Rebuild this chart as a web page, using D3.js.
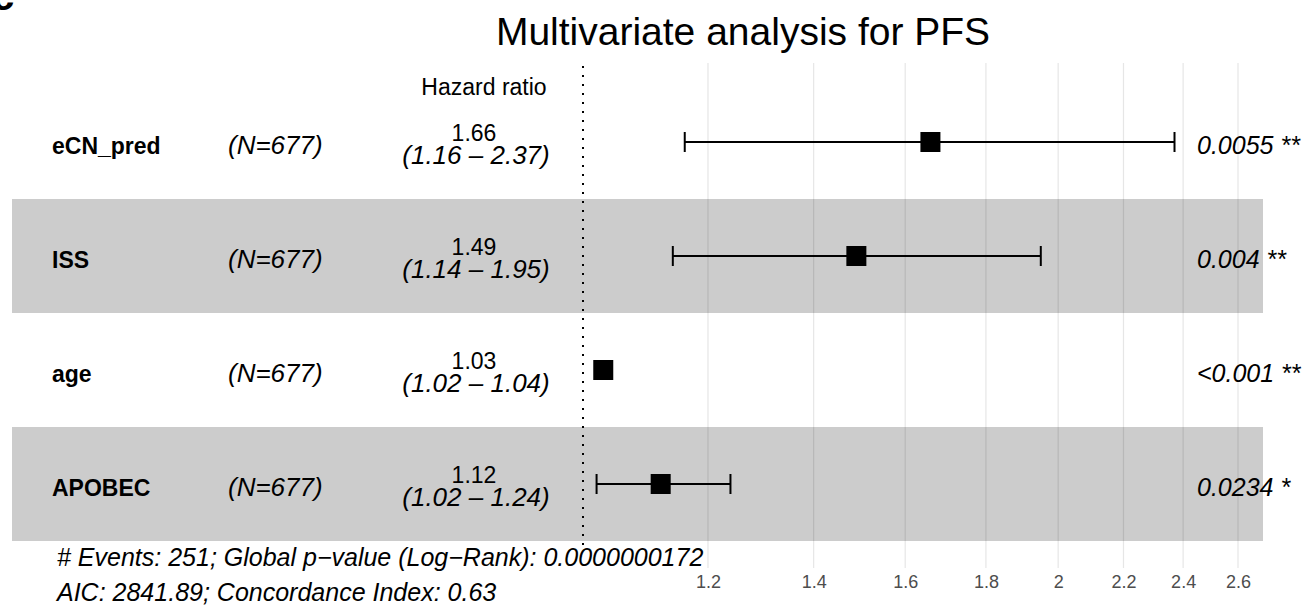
<!DOCTYPE html>
<html>
<head>
<meta charset="utf-8">
<script src="https://cdn.jsdelivr.net/npm/d3@7"></script>
<style>
  body { margin: 0; background: #fff; }
  svg { font-family: "Liberation Sans", Arial, sans-serif; }
</style>
</head>
<body>
<div id="chart"></div>
<script>
// forest plot, multivariate Cox model for PFS

var variables = ["eCN_pred", "ISS", "age", "APOBEC"];
var nLabels = ["(N=677)", "(N=677)", "(N=677)", "(N=677)"];
var hazard = [1.66, 1.49, 1.03, 1.12];
var lower = [1.16, 1.14, 1.02, 1.02];
var upper = [2.37, 1.95, 1.04, 1.24];
var pvals = ["0.0055", "0.004", "<0.001", "0.0234"];
var stars = ["**", "**", "**", "*"];
var tickValues = [1.2, 1.4, 1.6, 1.8, 2, 2.2, 2.4, 2.6];
var footer = [
  "# Events: 251; Global p\u2212value (Log\u2212Rank): 0.0000000172",
  "AIC: 2841.89; Concordance Index: 0.63"
];

var width = 1310, height = 612;

var svg = d3.select("#chart").append("svg")
  .attr("width", width)
  .attr("height", height);

var rows = variables.map(function(v, i) {
  return { name: v, n: nLabels[i], hr: hazard[i], lo: lower[i], hi: upper[i], p: pvals[i], s: stars[i], i: i };
});

var x = d3.scaleLog().domain([1, 2.6]).range([583, 1238]);
var y = d3.scaleBand().domain(variables).range([85, 541]);

// gridlines
svg.append("g").selectAll("line")
  .data(tickValues)
  .enter().append("line")
    .attr("x1", function(d) { return x(d); })
    .attr("x2", function(d) { return x(d); })
    .attr("y1", 63)
    .attr("y2", 568)
    .attr("stroke", "#e6e6e6")
    .attr("stroke-width", 1.2);

// alternating bands
svg.append("g").selectAll("rect")
  .data(rows.filter(function(d) { return d.i % 2 == 1; }))
  .enter().append("rect")
    .attr("x", 12)
    .attr("width", 1263 - 12)
    .attr("y", function(d) { return y(d.name); })
    .attr("height", y.bandwidth())
    .attr("fill", "#000")
    .attr("fill-opacity", 0.2);

// reference line at 1
svg.append("line")
  .attr("x1", x(1)).attr("x2", x(1))
  .attr("y1", 66).attr("y2", 548)
  .attr("stroke", "#000")
  .attr("stroke-width", 2)
  .attr("stroke-dasharray", "2,7");

// axis labels
var axis = d3.axisBottom(x)
  .tickValues(tickValues)
  .tickFormat(d3.format("~g"))
  .tickSize(0)
  .tickPadding(0);

var ax = svg.append("g")
  .attr("transform", "translate(0,575)")
  .call(axis);
ax.select(".domain").remove();
ax.selectAll("text")
  .attr("fill", "#4d4d4d")
  .attr("font-size", 18)
  .attr("dy", "0.71em")
  .attr("y", 0)
  .style("font-family", "Liberation Sans, Arial, sans-serif");

var rowG = svg.append("g").selectAll("g")
  .data(rows)
  .enter().append("g")
    .attr("transform", function(d) { return "translate(0," + (y(d.name) + y.bandwidth() / 2) + ")"; });

rowG.append("text")
  .attr("x", 52).attr("y", 12)
  .attr("font-size", 23)
  .attr("font-weight", "bold")
  .text(function(d) { return d.name; });

rowG.append("text")
  .attr("x", 228).attr("y", 12)
  .attr("font-size", 26)
  .attr("font-style", "italic")
  .text(function(d) { return d.n; });

rowG.append("text")
  .attr("x", 474).attr("y", -1)
  .attr("text-anchor", "middle")
  .attr("font-size", 23)
  .text(function(d) { return d3.format(".2f")(d.hr); });

rowG.append("text")
  .attr("x", 476).attr("y", 22)
  .attr("text-anchor", "middle")
  .attr("font-size", 26)
  .attr("font-style", "italic")
  .text(function(d) { return "(" + d3.format(".2f")(d.lo) + " \u2013 " + d3.format(".2f")(d.hi) + ")"; });

// confidence intervals
rowG.append("line")
  .attr("x1", function(d) { return x(d.lo); })
  .attr("x2", function(d) { return x(d.hi); })
  .attr("stroke", "#000").attr("stroke-width", 2);
rowG.selectAll(".cap")
  .data(function(d) { return [d.lo, d.hi]; })
  .enter().append("line")
    .attr("class", "cap")
    .attr("x1", function(v) { return x(v); })
    .attr("x2", function(v) { return x(v); })
    .attr("y1", -10).attr("y2", 10)
    .attr("stroke", "#000").attr("stroke-width", 2);

rowG.append("rect")
  .attr("x", function(d) { return x(d.hr) - 10; })
  .attr("y", -10)
  .attr("width", 20).attr("height", 20)
  .attr("fill", "#000");

rowG.append("text")
  .attr("x", 1197).attr("y", 12)
  .attr("font-size", 25)
  .attr("font-style", "italic")
  .text(function(d) { return d.p + " " + d.s; });

// header texts
svg.append("text")
  .attr("x", 743).attr("y", 45)
  .attr("text-anchor", "middle")
  .attr("font-size", 39)
  .text("Multivariate analysis for PFS");

svg.append("text")
  .attr("x", 484).attr("y", 95)
  .attr("text-anchor", "middle")
  .attr("font-size", 23)
  .text("Hazard ratio");

svg.append("text")
  .attr("x", -8).attr("y", 10)
  .attr("font-size", 40)
  .attr("font-weight", "bold")
  .text("c");

svg.selectAll(".foot")
  .data(footer)
  .enter().append("text")
    .attr("class", "foot")
    .attr("x", 57)
    .attr("y", function(d, i) { return 566 + i * 35; })
    .attr("font-size", 25)
    .attr("font-style", "italic")
    .text(function(d) { return d; });
</script>
</body>
</html>
